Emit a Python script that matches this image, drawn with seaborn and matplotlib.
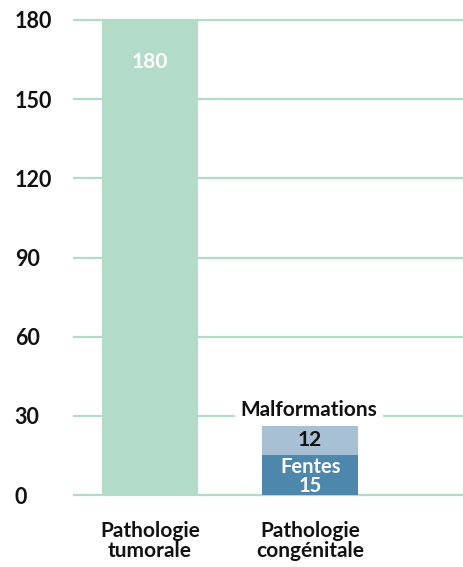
import numpy as np
import pandas as pd
import seaborn as sns
import matplotlib.pyplot as plt

categories = ["Pathologie\ntumorale", "Pathologie\ncongénitale"]
totals = [180, 27]
fentes = [0, 15]
malformations = [0, 12]
yticks = [0, 30, 60, 90, 120, 150, 180]

green = "#b3dcc8"
light_blue = "#a8c0d4"
dark_blue = "#4d87ab"

sns.set_theme(style="white")
plt.rcParams['font.family'] = 'Lato'
plt.rcParams['font.weight'] = 'bold'

W, H = 464, 567
fig = plt.figure(figsize=(W / 100, H / 100), dpi=100)
# axes placement in pixels: data 0 -> y=495, 180 -> y=20, extended by 1 unit each side
ppu = (495 - 20) / 180
top_px = 20 - ppu
bot_px = 495 + ppu
ax = fig.add_axes([73 / W, (H - bot_px) / H, (W - 73) / W, (bot_px - top_px) / H])

df = pd.DataFrame({"cat": categories, "total": totals, "fentes": fentes})
sns.barplot(data=df, x="cat", y="total", hue="cat", palette=[green, light_blue],
            width=0.6, legend=False, ax=ax, saturation=1, linewidth=0, zorder=2)
sns.barplot(data=df, x="cat", y="fentes", hue="cat", palette=[green, dark_blue],
            width=0.6, legend=False, ax=ax, saturation=1, linewidth=0, zorder=3)

ax.set_xlim(-0.48, 1.96)
ax.set_ylim(-1, 181)
ax.set_yticks(yticks)
for y in yticks:
    ax.axhline(y, color=green, lw=1.6, zorder=1)
for s in ax.spines.values():
    s.set_visible(False)
ax.set_xlabel("")
ax.set_ylabel("")
ax.tick_params(axis="y", length=0, pad=42, labelsize=15.5, labelcolor="#111111")
ax.tick_params(axis="x", length=0, pad=17, labelsize=15, labelcolor="#111111")
for lab in ax.get_yticklabels():
    lab.set_ha("left")
    lab.set_fontweight("bold")
for lab in ax.get_xticklabels():
    lab.set_fontweight("bold")
    lab.set_linespacing(1.0)

# value labels
ax.text(0, totals[0] - 16, str(totals[0]), ha="center", va="center", color="white",
        fontsize=15, fontweight="bold", zorder=5)
ax.text(1, fentes[1] + malformations[1] / 2, str(malformations[1]), ha="center", va="center",
        color="#111111", fontsize=15, fontweight="bold", zorder=5)
ax.text(1, 10.6, "Fentes", ha="center", va="center",
        color="white", fontsize=14.5, fontweight="bold", zorder=5)
ax.text(1, 3.3, str(fentes[1]), ha="center", va="center",
        color="white", fontsize=14.5, fontweight="bold", zorder=5)
ax.text(0.99, totals[1] + 5.2, "Malformations", ha="center", va="center", color="#111111",
        fontsize=15, fontweight="bold", zorder=5,
        bbox=dict(facecolor="white", edgecolor="none", pad=4))

fig.savefig("out.png", dpi=100)
